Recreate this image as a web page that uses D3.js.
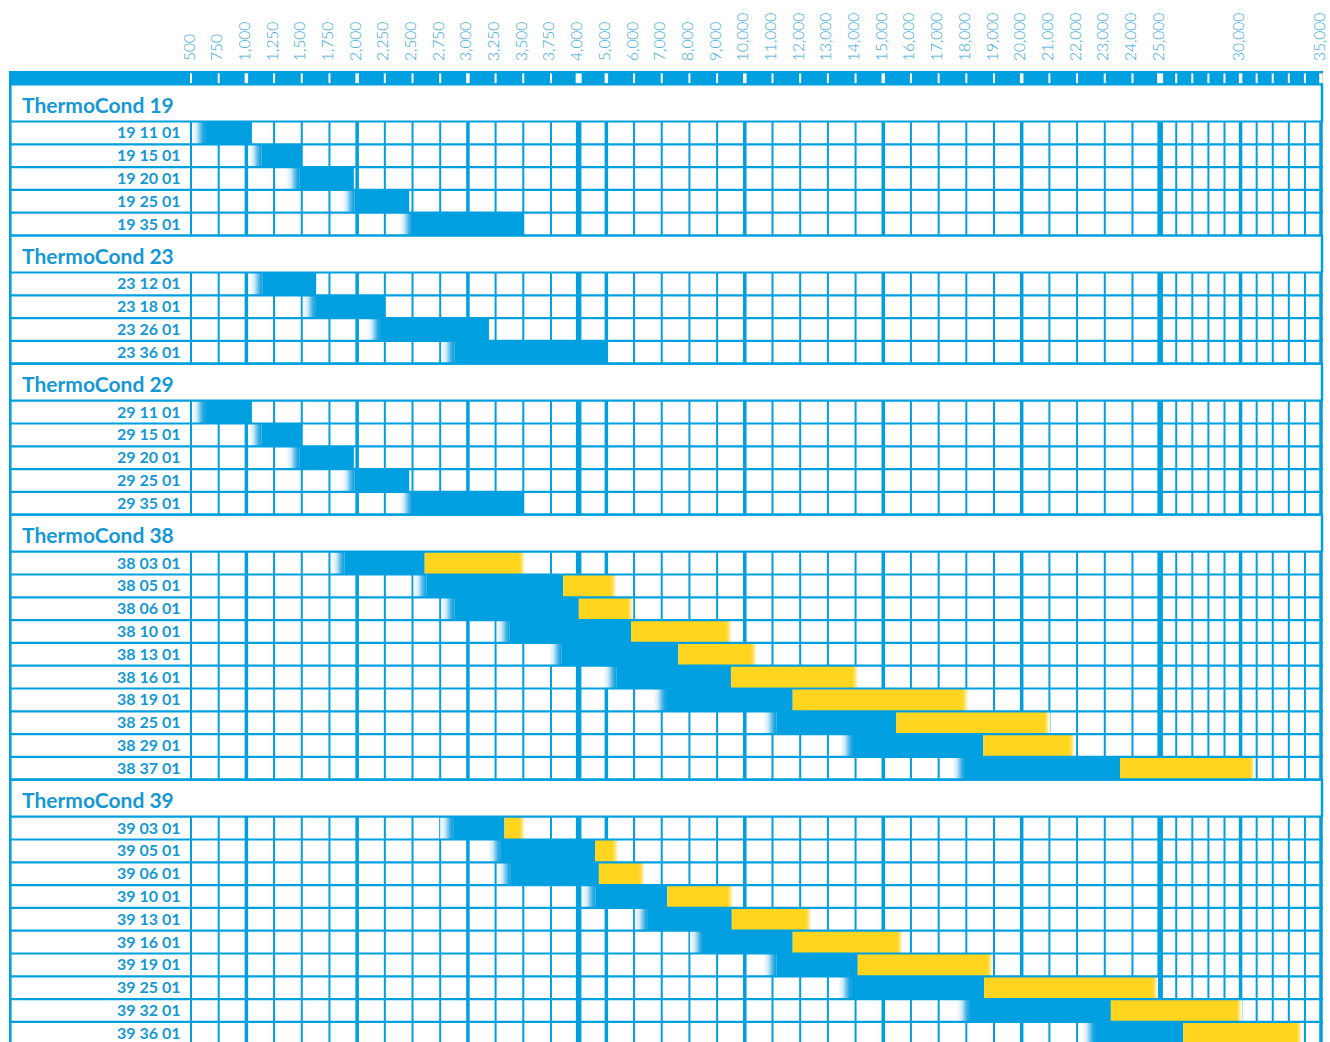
<!DOCTYPE html>
<html>
<head>
<meta charset="utf-8">
<script src="https://cdn.jsdelivr.net/npm/d3@7"></script>
<style>
  body { margin: 0; background: #fff; }
  svg { display: block; }
</style>
</head>
<body>
<div id="chart"></div>
<script>
// Group titles
const groupNames = ['ThermoCond 19', 'ThermoCond 23', 'ThermoCond 29', 'ThermoCond 38', 'ThermoCond 39'];

// ThermoCond 19
const tc19Codes = ['19 11 01', '19 15 01', '19 20 01', '19 25 01', '19 35 01'];
const tc19From = [510, 1020, 1360, 1860, 2380];
const tc19To = [1050, 1500, 1970, 2470, 3500];

// ThermoCond 23
const tc23Codes = ['23 12 01', '23 18 01', '23 26 01', '23 36 01'];
const tc23From = [1030, 1510, 2090, 2760];
const tc23To = [1630, 2250, 3190, 5050];

// ThermoCond 29
const tc29Codes = ['29 11 01', '29 15 01', '29 20 01', '29 25 01', '29 35 01'];
const tc29From = [510, 1020, 1360, 1860, 2380];
const tc29To = [1050, 1500, 1970, 2470, 3500];

// ThermoCond 38 (blue part up to mid, yellow part from mid to end)
const tc38Codes = ['38 03 01', '38 05 01', '38 06 01', '38 10 01', '38 13 01', '38 16 01', '38 19 01', '38 25 01', '38 29 01', '38 37 01'];
const tc38From = [1770, 2510, 2760, 3260, 3730, 4890, 6690, 10670, 13440, 17480];
const tc38Mid = [2610, 3860, 4000, 5890, 7600, 9500, 11730, 15460, 18610, 23550];
const tc38To = [3470, 5190, 5790, 9350, 10250, 13920, 17890, 20840, 21740, 30590];

// ThermoCond 39
const tc39Codes = ['39 03 01', '39 05 01', '39 06 01', '39 10 01', '39 13 01', '39 16 01', '39 19 01', '39 25 01', '39 32 01', '39 36 01'];
const tc39From = [2750, 3180, 3270, 4140, 6030, 8020, 10670, 13370, 17660, 22180];
const tc39Mid = [3330, 4590, 4730, 7200, 9530, 11730, 14080, 18640, 23220, 26430];
const tc39To = [3470, 5250, 6210, 9400, 12230, 15530, 18780, 24740, 29780, 33510];

// Axis ticks (labelled), extra unlabelled grid lines, heavier lines
const tickValues = [500, 750, 1000, 1250, 1500, 1750, 2000, 2250, 2500, 2750, 3000, 3250, 3500, 3750, 4000,
  5000, 6000, 7000, 8000, 9000, 10000, 11000, 12000, 13000, 14000, 15000, 16000, 17000, 18000, 19000,
  20000, 21000, 22000, 23000, 24000, 25000, 30000, 35000];
const extraGrid = [26000, 27000, 28000, 29000, 31000, 32000, 33000, 34000];
const boldGrid = [1000, 2000, 3000, 5000, 10000, 15000, 20000, 30000, 35000];
const heavyGrid = [4000, 25000];

// Colours
const blue = '#009fdf';
const yellow = '#ffd51f';
const textBlue = '#1598d6';

// Layout
const width = 1330, height = 1042;
const leftEdge = 10.3;
const plotLeft = 191, plotRight = 1321;
const slot = 27.69;
const headTop = 71, headBottom = 84.5;
const groupH = 37, rowH = 22.8;
const fadeW = 13;

// Piecewise scale: 250 steps, then 1000 steps, then compressed 25k-35k
const x = d3.scaleLinear()
    .domain([500, 4000, 25000, 35000])
    .range([plotLeft, plotLeft + 14 * slot, plotLeft + 35 * slot, plotRight]);

const gridValues = tickValues.concat(extraGrid).sort((a, b) => a - b);
const lineWidth = v => heavyGrid.includes(v) ? 5.5 : boldGrid.includes(v) ? 3.5 : 2;

const sections = [
    { name: groupNames[0], codes: tc19Codes, from: tc19From, mid: tc19To, to: tc19To },
    { name: groupNames[1], codes: tc23Codes, from: tc23From, mid: tc23To, to: tc23To },
    { name: groupNames[2], codes: tc29Codes, from: tc29From, mid: tc29To, to: tc29To },
    { name: groupNames[3], codes: tc38Codes, from: tc38From, mid: tc38Mid, to: tc38To },
    { name: groupNames[4], codes: tc39Codes, from: tc39From, mid: tc39Mid, to: tc39To }
];

const svg = d3.select('#chart')
    .append('svg')
    .attr('width', width)
    .attr('height', height)
    .style('font-family', 'Lato, "Open Sans", sans-serif');

// Gradients for the soft bar ends
const defs = svg.append('defs');
const gBlue = defs.append('linearGradient').attr('id', 'fadeBlue');
[[0, '#ffffff'], [0.35, '#d3ecf9'], [0.75, '#41b1e6'], [1, blue]].forEach(([o, c]) =>
    gBlue.append('stop').attr('offset', o).attr('stop-color', c));
const gYellow = defs.append('linearGradient').attr('id', 'fadeYellow');
[[0, yellow], [1, '#ffffff']].forEach(([o, c]) =>
    gYellow.append('stop').attr('offset', o).attr('stop-color', c));

// Tick labels, rotated
svg.append('g')
    .selectAll('text')
    .data(tickValues)
    .enter()
    .append('text')
    .attr('transform', d => `translate(${x(d) + 3.5},61) rotate(-90)`)
    .attr('font-size', 15.5)
    .attr('font-weight', 300)
    .attr('fill', '#34a6de')
    .text(d => d3.format(',')(d));

// Header bar with white tick marks
svg.append('rect')
    .attr('x', 9)
    .attr('y', headTop)
    .attr('width', plotRight + 2 - 9)
    .attr('height', headBottom - headTop)
    .attr('fill', blue);
svg.append('g')
    .selectAll('line')
    .data(gridValues)
    .enter()
    .append('line')
    .attr('x1', d => x(d))
    .attr('x2', d => x(d))
    .attr('y1', headTop + 2.3)
    .attr('y2', headBottom - 1.2)
    .attr('stroke', '#fff')
    .attr('stroke-width', d => heavyGrid.includes(d) ? 6 : lineWidth(d));

let y = headBottom;
sections.forEach(s => {
    const g = svg.append('g');
    const bandTop = y;
    const rowsTop = y + groupH;
    const rowsBottom = rowsTop + s.codes.length * rowH;

    // Group title band
    g.append('text')
        .attr('x', 22)
        .attr('y', bandTop + 28)
        .attr('font-size', 21)
        .attr('font-weight', 700)
        .attr('fill', textBlue)
        .text(s.name);
    g.append('line')
        .attr('x1', plotRight + 1).attr('x2', plotRight + 1)
        .attr('y1', bandTop).attr('y2', rowsTop)
        .attr('stroke', blue).attr('stroke-width', 2.5);

    // Vertical grid lines in the data rows
    g.append('g')
        .selectAll('line')
        .data(gridValues)
        .enter()
        .append('line')
        .attr('x1', d => x(d))
        .attr('x2', d => x(d))
        .attr('y1', rowsTop)
        .attr('y2', rowsBottom)
        .attr('stroke', blue)
        .attr('stroke-width', lineWidth);

    const rows = s.codes.map((c, i) => ({
        code: c, from: s.from[i], mid: s.mid[i], to: s.to[i], top: rowsTop + i * rowH
    }));

    // Blue bars: soft left end, then solid
    g.append('g')
        .selectAll('rect')
        .data(rows)
        .enter()
        .append('rect')
        .attr('x', d => x(d.from))
        .attr('y', d => d.top)
        .attr('width', fadeW)
        .attr('height', rowH)
        .attr('fill', 'url(#fadeBlue)');
    g.append('g')
        .selectAll('rect')
        .data(rows)
        .enter()
        .append('rect')
        .attr('x', d => x(d.from) + fadeW)
        .attr('y', d => d.top)
        .attr('width', d => Math.max(0, x(d.mid) - x(d.from) - fadeW))
        .attr('height', rowH)
        .attr('fill', blue);

    // Yellow bars with soft right end
    const yRows = rows.filter(d => d.to > d.mid);
    g.append('g')
        .selectAll('rect')
        .data(yRows)
        .enter()
        .append('rect')
        .attr('x', d => x(d.mid))
        .attr('y', d => d.top)
        .attr('width', d => x(d.to) - x(d.mid))
        .attr('height', rowH)
        .attr('fill', yellow);
    g.append('g')
        .selectAll('rect')
        .data(yRows)
        .enter()
        .append('rect')
        .attr('x', d => x(d.to))
        .attr('y', d => d.top)
        .attr('width', 5)
        .attr('height', rowH)
        .attr('fill', 'url(#fadeYellow)');

    // Horizontal lines: band top, band bottom, row bottoms
    const hLines = [bandTop, rowsTop].concat(rows.map(d => d.top + rowH));
    g.append('g')
        .selectAll('line')
        .data(hLines)
        .enter()
        .append('line')
        .attr('x1', leftEdge)
        .attr('x2', plotRight + 2)
        .attr('y1', d => d)
        .attr('y2', d => d)
        .attr('stroke', blue)
        .attr('stroke-width', 2.2);

    // Row labels
    g.append('g')
        .selectAll('text')
        .data(rows)
        .enter()
        .append('text')
        .attr('x', 180.5)
        .attr('y', d => d.top + rowH / 2)
        .attr('dy', '0.34em')
        .attr('text-anchor', 'end')
        .attr('font-size', 16)
        .attr('font-weight', 700)
        .attr('fill', textBlue)
        .text(d => d.code);

    y = rowsBottom;
});

// Left border
svg.append('line')
    .attr('x1', leftEdge).attr('x2', leftEdge)
    .attr('y1', headTop).attr('y2', height)
    .attr('stroke', blue)
    .attr('stroke-width', 2.6);
</script>
</body>
</html>
